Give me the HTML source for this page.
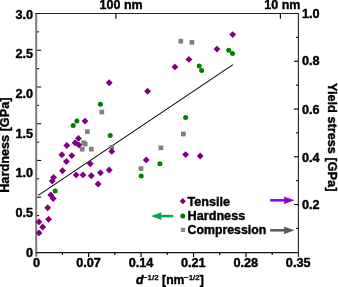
<!DOCTYPE html>
<html><head><meta charset="utf-8"><title>Hall-Petch plot</title>
<style>
html,body{margin:0;padding:0;background:#fff;}
svg{display:block;}
text{font-family:"Liberation Sans",Arial,Helvetica,sans-serif;font-weight:bold;font-size:12.7px;fill:#000;stroke:#000;stroke-width:0.4px;stroke-linejoin:round;}
</style></head><body>
<svg width="338" height="287" viewBox="0 0 338 287">
<rect width="338" height="287" fill="#fff"/>
<line x1="36.2" y1="13.0" x2="36.2" y2="256.6" stroke="#7a7a7a" stroke-width="2"/>
<path d="M35.2 13.5 H298.4 V256.9" fill="none" stroke="#222" stroke-width="1.1"/>
<line x1="36.2" y1="252.55" x2="298.9" y2="252.55" stroke="#111" stroke-width="1.15"/>
<line x1="37.10" y1="31.87" x2="39.10" y2="31.87" stroke="#111" stroke-width="1.1"/>
<line x1="37.10" y1="50.24" x2="41.20" y2="50.24" stroke="#111" stroke-width="1.1"/>
<line x1="37.10" y1="68.61" x2="39.10" y2="68.61" stroke="#111" stroke-width="1.1"/>
<line x1="37.10" y1="86.98" x2="41.20" y2="86.98" stroke="#111" stroke-width="1.1"/>
<line x1="37.10" y1="105.35" x2="39.10" y2="105.35" stroke="#111" stroke-width="1.1"/>
<line x1="37.10" y1="123.72" x2="41.20" y2="123.72" stroke="#111" stroke-width="1.1"/>
<line x1="37.10" y1="142.08" x2="39.10" y2="142.08" stroke="#111" stroke-width="1.1"/>
<line x1="37.10" y1="160.45" x2="41.20" y2="160.45" stroke="#111" stroke-width="1.1"/>
<line x1="37.10" y1="178.82" x2="39.10" y2="178.82" stroke="#111" stroke-width="1.1"/>
<line x1="37.10" y1="197.19" x2="41.20" y2="197.19" stroke="#111" stroke-width="1.1"/>
<line x1="37.10" y1="215.56" x2="39.10" y2="215.56" stroke="#111" stroke-width="1.1"/>
<line x1="37.10" y1="233.93" x2="41.20" y2="233.93" stroke="#111" stroke-width="1.1"/>
<line x1="298.4" y1="37.38" x2="296.10" y2="37.38" stroke="#000" stroke-width="1.15"/>
<line x1="298.4" y1="61.26" x2="294.00" y2="61.26" stroke="#000" stroke-width="1.15"/>
<line x1="298.4" y1="85.14" x2="296.10" y2="85.14" stroke="#000" stroke-width="1.15"/>
<line x1="298.4" y1="109.02" x2="294.00" y2="109.02" stroke="#000" stroke-width="1.15"/>
<line x1="298.4" y1="132.90" x2="296.10" y2="132.90" stroke="#000" stroke-width="1.15"/>
<line x1="298.4" y1="156.78" x2="294.00" y2="156.78" stroke="#000" stroke-width="1.15"/>
<line x1="298.4" y1="180.66" x2="296.10" y2="180.66" stroke="#000" stroke-width="1.15"/>
<line x1="298.4" y1="204.54" x2="294.00" y2="204.54" stroke="#000" stroke-width="1.15"/>
<line x1="298.4" y1="228.42" x2="296.10" y2="228.42" stroke="#000" stroke-width="1.15"/>
<line x1="62.42" y1="252.3" x2="62.42" y2="255.00" stroke="#000" stroke-width="1.15"/>
<line x1="88.64" y1="252.3" x2="88.64" y2="257.00" stroke="#000" stroke-width="1.15"/>
<line x1="114.86" y1="252.3" x2="114.86" y2="255.00" stroke="#000" stroke-width="1.15"/>
<line x1="141.08" y1="252.3" x2="141.08" y2="257.00" stroke="#000" stroke-width="1.15"/>
<line x1="167.30" y1="252.3" x2="167.30" y2="255.00" stroke="#000" stroke-width="1.15"/>
<line x1="193.52" y1="252.3" x2="193.52" y2="257.00" stroke="#000" stroke-width="1.15"/>
<line x1="219.74" y1="252.3" x2="219.74" y2="255.00" stroke="#000" stroke-width="1.15"/>
<line x1="245.96" y1="252.3" x2="245.96" y2="257.00" stroke="#000" stroke-width="1.15"/>
<line x1="272.18" y1="252.3" x2="272.18" y2="255.00" stroke="#000" stroke-width="1.15"/>
<line x1="115.9" y1="13.5" x2="115.9" y2="18.7" stroke="#111" stroke-width="1.2"/>
<line x1="280.4" y1="13.5" x2="280.4" y2="18.7" stroke="#111" stroke-width="1.2"/>
<line x1="38.3" y1="195.4" x2="233" y2="64.6" stroke="#000" stroke-width="1.05"/>
<rect x="81.25" y="140.35" width="4.7" height="4.7" fill="#808080"/>
<rect x="82.85" y="141.75" width="4.7" height="4.7" fill="#808080"/>
<rect x="79.85" y="146.85" width="4.7" height="4.7" fill="#808080"/>
<rect x="88.95" y="146.85" width="4.7" height="4.7" fill="#808080"/>
<rect x="99.45" y="109.65" width="4.7" height="4.7" fill="#808080"/>
<rect x="85.05" y="129.25" width="4.7" height="4.7" fill="#808080"/>
<rect x="109.45" y="144.95" width="4.7" height="4.7" fill="#808080"/>
<rect x="138.65" y="166.25" width="4.7" height="4.7" fill="#808080"/>
<rect x="158.55" y="145.45" width="4.7" height="4.7" fill="#808080"/>
<rect x="178.45" y="38.85" width="4.7" height="4.7" fill="#808080"/>
<rect x="189.55" y="40.05" width="4.7" height="4.7" fill="#808080"/>
<rect x="181.05" y="131.65" width="4.7" height="4.7" fill="#808080"/>
<circle cx="55.2" cy="191.1" r="2.5" fill="#008000"/>
<circle cx="100.4" cy="104.3" r="2.5" fill="#008000"/>
<circle cx="76.9" cy="120.9" r="2.5" fill="#008000"/>
<circle cx="73.2" cy="125.6" r="2.5" fill="#008000"/>
<circle cx="110.2" cy="135.4" r="2.5" fill="#008000"/>
<circle cx="141.2" cy="176.1" r="2.5" fill="#008000"/>
<circle cx="159.9" cy="163.7" r="2.5" fill="#008000"/>
<circle cx="199.2" cy="65.9" r="2.5" fill="#008000"/>
<circle cx="201.6" cy="70.5" r="2.5" fill="#008000"/>
<circle cx="228.7" cy="50.2" r="2.5" fill="#008000"/>
<circle cx="232.5" cy="53.6" r="2.5" fill="#008000"/>
<circle cx="185.6" cy="117.6" r="2.5" fill="#008000"/>
<path d="M39.0 229.45 L42.45 232.9 L39.0 236.35 L35.55 232.9 Z" fill="#800080"/>
<path d="M42.7 223.55 L46.15 227.0 L42.7 230.45 L39.25 227.0 Z" fill="#800080"/>
<path d="M39.0 218.45 L42.45 221.9 L39.0 225.35 L35.55 221.9 Z" fill="#800080"/>
<path d="M48.6 215.85 L52.05 219.3 L48.6 222.75 L45.15 219.3 Z" fill="#800080"/>
<path d="M47.7 204.35 L51.15 207.8 L47.7 211.25 L44.25 207.8 Z" fill="#800080"/>
<path d="M53.2 195.05 L56.65 198.5 L53.2 201.95 L49.75 198.5 Z" fill="#800080"/>
<path d="M50.8 191.55 L54.25 195.0 L50.8 198.45 L47.35 195.0 Z" fill="#800080"/>
<path d="M78.5 134.95 L81.95 138.4 L78.5 141.85 L75.05 138.4 Z" fill="#800080"/>
<path d="M75.1 139.25 L78.55 142.7 L75.1 146.15 L71.65 142.7 Z" fill="#800080"/>
<path d="M78.9 141.65 L82.35 145.1 L78.9 148.55 L75.45 145.1 Z" fill="#800080"/>
<path d="M66.8 142.05 L70.25 145.5 L66.8 148.95 L63.35 145.5 Z" fill="#800080"/>
<path d="M61.9 151.35 L65.35 154.8 L61.9 158.25 L58.45 154.8 Z" fill="#800080"/>
<path d="M71.8 152.15 L75.25 155.6 L71.8 159.05 L68.35 155.6 Z" fill="#800080"/>
<path d="M66.4 158.05 L69.85 161.5 L66.4 164.95 L62.95 161.5 Z" fill="#800080"/>
<path d="M90.3 160.25 L93.75 163.7 L90.3 167.15 L86.85 163.7 Z" fill="#800080"/>
<path d="M62.5 167.35 L65.95 170.8 L62.5 174.25 L59.05 170.8 Z" fill="#800080"/>
<path d="M53.6 174.05 L57.05 177.5 L53.6 180.95 L50.15 177.5 Z" fill="#800080"/>
<path d="M52.2 177.65 L55.65 181.1 L52.2 184.55 L48.75 181.1 Z" fill="#800080"/>
<path d="M76.1 171.45 L79.55 174.9 L76.1 178.35 L72.65 174.9 Z" fill="#800080"/>
<path d="M83.0 171.45 L86.45 174.9 L83.0 178.35 L79.55 174.9 Z" fill="#800080"/>
<path d="M91.3 172.25 L94.75 175.7 L91.3 179.15 L87.85 175.7 Z" fill="#800080"/>
<path d="M100.4 169.35 L103.85 172.8 L100.4 176.25 L96.95 172.8 Z" fill="#800080"/>
<path d="M98.1 180.55 L101.55 184.0 L98.1 187.45 L94.65 184.0 Z" fill="#800080"/>
<path d="M85.0 117.65 L88.45 121.1 L85.0 124.55 L81.55 121.1 Z" fill="#800080"/>
<path d="M109.2 79.35 L112.65 82.8 L109.2 86.25 L105.75 82.8 Z" fill="#800080"/>
<path d="M147.6 87.85 L151.05 91.3 L147.6 94.75 L144.15 91.3 Z" fill="#800080"/>
<path d="M111.8 147.95 L115.25 151.4 L111.8 154.85 L108.35 151.4 Z" fill="#800080"/>
<path d="M109.2 166.55 L112.65 170.0 L109.2 173.45 L105.75 170.0 Z" fill="#800080"/>
<path d="M146.2 156.45 L149.65 159.9 L146.2 163.35 L142.75 159.9 Z" fill="#800080"/>
<path d="M188.9 55.95 L192.35 59.4 L188.9 62.85 L185.45 59.4 Z" fill="#800080"/>
<path d="M174.9 63.45 L178.35 66.9 L174.9 70.35 L171.45 66.9 Z" fill="#800080"/>
<path d="M216.9 45.65 L220.35 49.1 L216.9 52.55 L213.45 49.1 Z" fill="#800080"/>
<path d="M232.7 31.15 L236.15 34.6 L232.7 38.05 L229.25 34.6 Z" fill="#800080"/>
<path d="M185.6 151.15 L189.05 154.6 L185.6 158.05 L182.15 154.6 Z" fill="#800080"/>
<path d="M200.2 152.55 L203.65 156.0 L200.2 159.45 L196.75 156.0 Z" fill="#800080"/>
<text x="33.1" y="18.5" text-anchor="end">3.0</text>
<text x="33.1" y="58.2" text-anchor="end">2.5</text>
<text x="33.1" y="97.9" text-anchor="end">2.0</text>
<text x="33.1" y="137.5" text-anchor="end">1.5</text>
<text x="33.1" y="177.1" text-anchor="end">1.0</text>
<text x="33.1" y="216.8" text-anchor="end">0.5</text>
<text x="33.1" y="256.7" text-anchor="end">0</text>
<text x="302.0" y="17.7">1.0</text>
<text x="302.0" y="65.0">0.8</text>
<text x="302.0" y="113.8">0.6</text>
<text x="302.0" y="161.6">0.4</text>
<text x="302.0" y="209.2">0.2</text>
<text x="36.5" y="266.7" text-anchor="middle">0</text>
<text x="88.5" y="266.7" text-anchor="middle">0.07</text>
<text x="141.0" y="266.7" text-anchor="middle">0.14</text>
<text x="193.3" y="266.7" text-anchor="middle">0.21</text>
<text x="245.8" y="266.7" text-anchor="middle">0.28</text>
<text x="298.2" y="266.7" text-anchor="middle">0.35</text>
<text x="99.6" y="8.5" style="font-size:12.5px">100 nm</text>
<text x="300.4" y="8.5" text-anchor="end" style="font-size:12.5px">10 nm</text>
<text style="font-size:12.72px" transform="translate(9.25,192.8) rotate(-90) scale(1,0.95)">Hardness [GPa]</text>
<text style="font-size:12.75px" transform="translate(328.2,82.9) rotate(90) scale(1,1.07)">Yield stress [GPa]</text>
<text x="135.9" y="283.7" style="font-size:12.2px"><tspan font-style="italic">d</tspan><tspan dy="-4" dx="-0.4" font-size="7.9" stroke-width="0.25">−1/2</tspan><tspan dy="4" dx="0.2"> [nm</tspan><tspan dy="-4" dx="-0.4" font-size="7.9" stroke-width="0.25">−1/2</tspan><tspan dy="4" dx="0">]</tspan></text>
<path d="M182.8 198.1 L185.9 201.2 L182.8 204.3 L179.7 201.2 Z" fill="#800080"/>
<circle cx="182.8" cy="216.0" r="2.5" fill="#008000"/>
<rect x="180.9" y="227.7" width="4.3" height="4.3" fill="#8c8c8c"/>
<text x="187.6" y="205.9" style="font-size:12.6px">Tensile</text>
<text x="187.6" y="220.1" style="font-size:12.65px">Hardness</text>
<text x="187.6" y="234.3" style="font-size:12.3px">Compression</text>
<path d="M270.1 199.05 H285.20 V201.55 H270.1 Z" fill="#9400d3"/>
<path d="M294.5 200.3 L283.70 196.45000000000002 L284.70 200.3 L283.70 204.15 Z" fill="#9400d3"/>
<path d="M270.1 229.05 H285.20 V231.55 H270.1 Z" fill="#595959"/>
<path d="M294.5 230.3 L283.70 226.45000000000002 L284.70 230.3 L283.70 234.15 Z" fill="#595959"/>
<path d="M173.2 214.85 H160.30 V217.35 H173.2 Z" fill="#00a651"/>
<path d="M151.0 216.1 L161.80 212.25 L160.80 216.1 L161.80 219.95 Z" fill="#00a651"/>
</svg>
</body></html>
